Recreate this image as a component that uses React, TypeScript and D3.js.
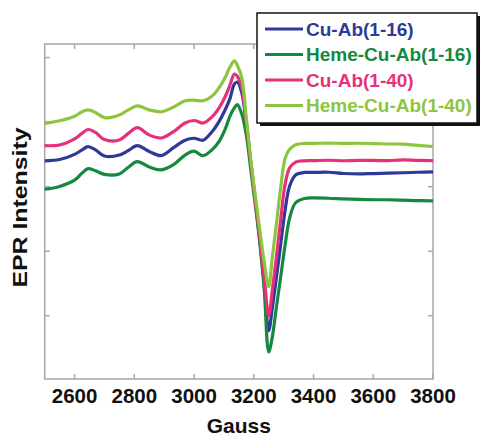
import React from 'react';
import * as d3 from 'd3';

// Magnetic field (Gauss)
const gauss = [
  2500, 2550, 2600, 2625, 2645, 2670, 2700, 2750, 2780, 2810,
  2850, 2890, 2930, 2970, 3000, 3030, 3060, 3085, 3105, 3120,
  3135, 3145, 3160, 3175, 3190, 3205, 3220, 3235, 3250, 3262,
  3275, 3290, 3305, 3320, 3340, 3370, 3400, 3450, 3500, 3550,
  3600, 3650, 3700, 3750, 3800,
];

// EPR intensity (arbitrary units)
const cuAb16 = [
  40, 42, 50, 57, 62, 57, 47.5, 49, 56, 63.5,
  54.5, 48, 60, 72, 75, 72, 85, 102, 120, 136,
  159, 162, 145, 97, 37, -21, -82, -151, -223, -188,
  -143, -90, -36, 1, 18, 22, 22, 22.3, 20.4, 19.7,
  20.3, 20.9, 21.5, 22.3, 23,
];
const hemeCuAb16 = [
  -4, 0.3, 10, 21, 28, 24.5, 19, 19.7, 30, 38.7,
  30.5, 26, 33.6, 49, 55, 48, 57, 71, 90, 109,
  122, 127, 112, 80, 26, -28, -86, -160, -256, -233,
  -189, -140, -90, -48.5, -25, -18.3, -17.5, -18, -19, -19.8,
  -20.3, -20.3, -21, -21.8, -22,
];
const cuAb40 = [
  63.5, 64.6, 74, 82.5, 88.5, 84, 73, 72.3, 82.5, 91.3,
  80, 75.4, 84.7, 98.6, 102.5, 98.6, 108, 123, 140, 157,
  174.5, 171, 153, 100, 38, -21, -79, -141, -200, -161,
  -112, -51.5, 4, 29, 38, 40, 40.2, 40.9, 40.1, 40.6,
  40.7, 40.2, 41.6, 40.6, 40.4,
];
const hemeCuAb40 = [
  98, 102, 109, 116, 119, 115, 107, 111, 119, 125,
  119, 116, 123, 133, 134, 133, 140, 154, 170, 185,
  195, 188, 168, 106, 41, -14, -67, -117, -155, -109,
  -61, -2, 44, 58, 65, 67, 67, 67.5, 67, 67.2,
  66.7, 66.1, 65.8, 63.8, 62.2,
];

const xTicks = [2600, 2800, 3000, 3200, 3400, 3600, 3800];
const yTicks = [-200, -100, 0, 100, 200];
const seriesNames = ['Cu-Ab(1-16)', 'Heme-Cu-Ab(1-16)', 'Cu-Ab(1-40)', 'Heme-Cu-Ab(1-40)'];
const seriesValues = [cuAb16, hemeCuAb16, cuAb40, hemeCuAb40];
const seriesColors = ['#2e3a98', '#14893f', '#e6317a', '#8cc63f'];

export default function App() {
  const W = 483;
  const H = 436;
  const left = 44.7, right = 433, top = 44, bottom = 379;
  const x = d3.scaleLinear().domain([2500, 3800]).range([left, right]);
  const y = d3.scaleLinear().domain([-298, 221]).range([bottom, top]);
  const line = d3
    .line<number>()
    .x((_, i) => x(gauss[i]))
    .y((d) => y(d))
    .curve(d3.curveCatmullRom.alpha(0.5));

  const font = '"Liberation Sans", Arial, Helvetica, sans-serif';
  const axisColor = '#a9a6a3';
  const tickLen = 5;

  const legX = 257, legY = 13, legW = 220, legH = 110;
  const rowY = [29, 54.5, 80, 105.5];

  return (
    <svg width={W} height={H} style={{ position: 'absolute', left: 0, top: 0, background: '#fff' }}>
      <rect x={0} y={0} width={W} height={H} fill="#fff" />
      {/* plot frame */}
      <rect x={left} y={top} width={right - left} height={bottom - top} fill="none" stroke={axisColor} strokeWidth={1.5} />
      {xTicks.map((t) => (
        <g key={'xt' + t}>
          <line x1={x(t)} x2={x(t)} y1={bottom} y2={bottom - tickLen} stroke={axisColor} strokeWidth={1.5} />
          <line x1={x(t)} x2={x(t)} y1={top} y2={top + tickLen} stroke={axisColor} strokeWidth={1.5} />
          <text x={x(t)} y={403} textAnchor="middle" fontFamily={font} fontWeight="bold" fontSize={20.5} fill="#111">
            {t}
          </text>
        </g>
      ))}
      {yTicks.map((t) => (
        <g key={'yt' + t}>
          <line x1={left} x2={left + tickLen} y1={y(t)} y2={y(t)} stroke={axisColor} strokeWidth={1.5} />
          <line x1={right} x2={right - tickLen} y1={y(t)} y2={y(t)} stroke={axisColor} strokeWidth={1.5} />
        </g>
      ))}
      {/* curves */}
      {seriesValues.map((vals, i) => (
        <path key={'s' + i} d={line(vals) || ''} fill="none" stroke={seriesColors[i]} strokeWidth={3.2} strokeLinejoin="round" />
      ))}
      {/* axis titles */}
      <text x={(left + right) / 2} y={433} textAnchor="middle" fontFamily={font} fontWeight="bold" fontSize={21} fill="#111">
        Gauss
      </text>
      <text
        transform={`translate(27,${(top + bottom) / 2 - 4}) rotate(-90)`}
        textAnchor="middle"
        fontFamily={font}
        fontWeight="bold"
        fontSize={21}
        textLength={160}
        lengthAdjust="spacingAndGlyphs"
        fill="#111"
      >
        EPR Intensity
      </text>
      {/* legend */}
      <rect x={legX + 3} y={legY + 3} width={legW} height={legH} fill="#111" />
      <rect x={legX} y={legY} width={legW} height={legH} fill="#fff" stroke="#111" strokeWidth={1.5} />
      {seriesNames.map((name, i) => (
        <g key={'lg' + i}>
          <line x1={265} x2={303} y1={rowY[i]} y2={rowY[i]} stroke={seriesColors[i]} strokeWidth={3} />
          <text x={306} y={rowY[i]} dy="0.35em" fontFamily={font} fontWeight="bold" fontSize={19} fill={seriesColors[i]}>
            {name}
          </text>
        </g>
      ))}
    </svg>
  );
}
